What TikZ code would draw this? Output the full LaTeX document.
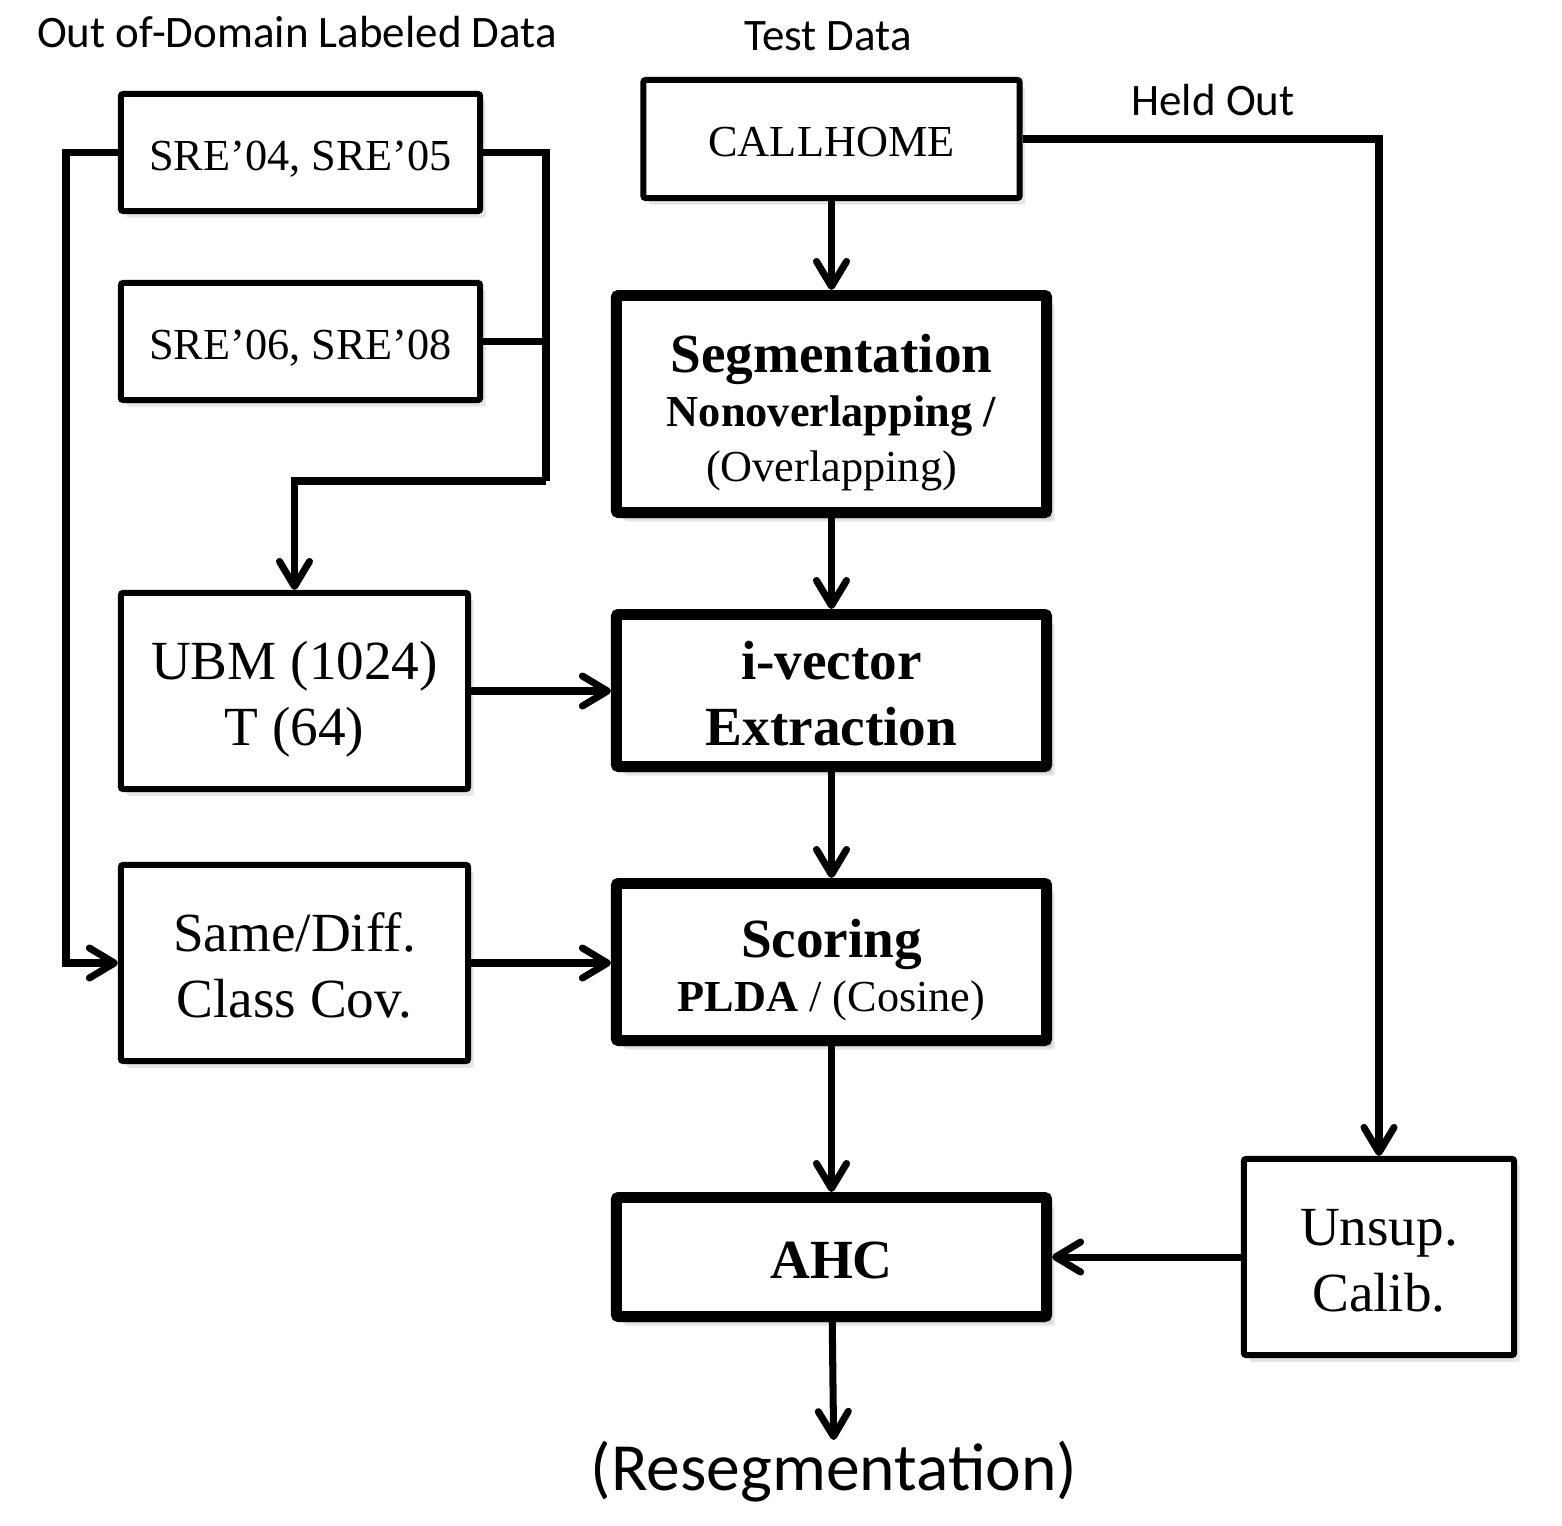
\documentclass[tikz,border=0pt]{standalone}
\usepackage{fontspec}
\setmainfont{Liberation Serif}
\newfontfamily\calibri{Carlito}
\usetikzlibrary{arrows.meta,shadows,calc}

\begin{document}
\begin{tikzpicture}[x=0.01cm,y=-0.01cm,
	  every node/.style={align=center,inner sep=0pt},
	  corpus/.style={draw,fill=white,line width=1.7pt,rounded corners=0.6pt,
	    drop shadow={shadow xshift=1.6pt,shadow yshift=-1.9pt,opacity=.2},
	    font=\fontsize{12.6}{15.4}\selectfont,text height=10.2pt,text depth=0pt},
	  model/.style={corpus,font=\fontsize{15.7}{18.8}\selectfont,text height=31.2pt,text depth=0pt},
	  stage/.style={corpus,line width=3.1pt,
	    drop shadow={shadow xshift=2.3pt,shadow yshift=-2.6pt,opacity=.2},
	    font=\fontsize{15.7}{18.8}\selectfont,text height=31.4pt,text depth=0pt},
	  caption/.style={font=\calibri\fontsize{12.8}{15}\selectfont},
	  link/.style={line width=2pt},
	  to/.style={link,-{Straight Barb[length=2.5mm,width=3mm,round]}}]
	  \useasboundingbox (0,0) rectangle (1562,1526);

	  % data sets
	  \node[caption] (oodlabel) at (297,32) {Out of-Domain Labeled Data};
	  \node[caption] (testlabel) at (828,36) {Test Data};
	  \node[corpus,minimum width=3.59cm,minimum height=1.17cm] (sre45) at (300.5,152.5) {SRE’04, SRE’05};
	  \node[corpus,minimum width=3.59cm,minimum height=1.17cm] (sre68) at (300.5,341.5) {SRE’06, SRE’08};
	  \node[corpus,minimum width=3.76cm,minimum height=1.18cm] (callhome) at (831.5,139) {CALLHOME};

	  % models trained on out-of-domain data
	  \node[model,minimum width=3.47cm,minimum height=1.96cm] (ubm) at (294.5,691) {UBM (1024)\\T (64)};
	  \node[model,minimum width=3.47cm,minimum height=1.96cm] (cov) at (294.5,963) {Same/Diff.\\Class Cov.};
	  \node[model,minimum width=2.70cm,minimum height=1.96cm] (calib) at (1379,1257) {Unsup.\\Calib.};

	  % main pipeline
	  \node[stage,minimum width=4.30cm,minimum height=2.17cm,font=\fontsize{12.6}{15.4}\selectfont,text height=43.8pt] (seg) at (831.5,404)
	    {{\fontsize{15.7}{15.4}\selectfont\bfseries Segmentation}\\\textbf{Nonoverlapping /}\\(Overlapping)};
	  \node[stage,minimum width=4.30cm,minimum height=1.52cm] (ivec) at (831.5,690.5) {\textbf{i-vector}\\\textbf{Extraction}};
	  \node[stage,minimum width=4.30cm,minimum height=1.57cm,font=\fontsize{12.6}{15.4}\selectfont,text height=28.4pt] (score) at (831.5,962)
	    {{\fontsize{15.7}{15.4}\selectfont\bfseries Scoring}\\\textbf{PLDA} / (Cosine)};
	  \node[stage,minimum width=4.30cm,minimum height=1.19cm,text height=12pt] (ahc) at (831.5,1257) {\textbf{AHC}};
	  \node[caption,anchor=north,font=\calibri\fontsize{19.2}{22}\selectfont] (reseg) at (834,1440) {(Resegmentation)};
	  \node[caption] (heldlabel) at (1213,100) {Held Out};

	  \coordinate (lbus) at (66,0);
	  \coordinate (rbus) at (546,481);

	  \draw[to] (sre45.west) -- (sre45.west -| lbus) |- (cov.west);
	  \draw[link] (sre45.east) -| (rbus);
	  \draw[link] (sre68.east) -- (sre68.east -| rbus);
	  \draw[to] (rbus) -| (ubm.north);
	  \draw[to] (callhome) -- (seg);
	  \draw[to] (seg) -- (ivec);
	  \draw[to] (ivec) -- (score);
	  \draw[to] (score) -- (ahc);
	  \draw[to] (ahc) -- (reseg);
	  \draw[to] (ubm.east) -- (ubm.east -| ivec.west);
	  \draw[to] (cov.east) -- (cov.east -| score.west);
	  \draw[to] (callhome.east) -| (calib.north);
	  \draw[to] (calib.west) -- (calib.west -| ahc.east);
\end{tikzpicture}
\end{document}
